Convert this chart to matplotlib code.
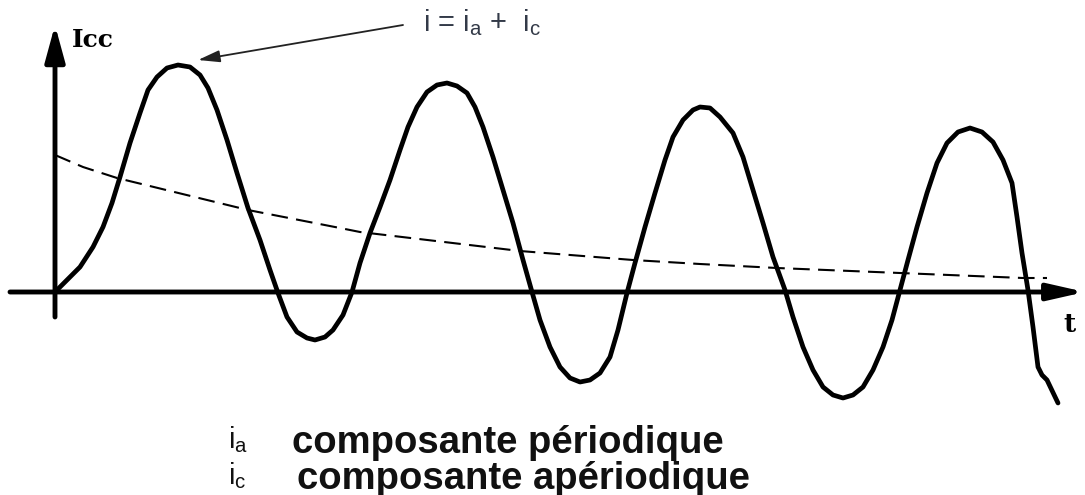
import matplotlib
matplotlib.use("Agg")
import matplotlib.pyplot as plt

plt.rcParams['mathtext.fontset'] = 'custom'
plt.rcParams['mathtext.rm'] = 'Liberation Sans'

# total current i = ia + ic (t, i)
t_i = [0, 12, 25, 38, 48, 57, 65, 75, 85, 93, 102, 112, 123, 135, 145, 153,
       162, 172, 182, 193, 205, 215, 223, 232, 242, 252, 260, 270, 278, 288,
       297, 305, 315, 325, 335, 345, 353, 362, 372, 382, 392, 402, 412, 420,
       428, 438, 448, 458, 468, 477, 485, 495, 505, 515, 525, 535, 545, 555,
       563, 572, 580, 590, 600, 610, 618, 628, 638, 645, 655, 665, 678, 688,
       698, 708, 718, 730, 738, 748, 758, 768, 778, 788, 798, 808, 818, 828,
       837, 845, 853, 862, 872, 882, 892, 903, 915, 927, 938, 948, 957, 962,
       967, 973, 978, 983, 987, 992, 1003]
i_total = [0, 12, 25, 45, 65, 89, 115, 149, 179, 202, 215, 224, 227, 225, 217,
           204, 182, 152, 119, 84, 52, 22, -1, -25, -40, -46, -48, -45, -38,
           -23, 0, 29, 59, 85, 112, 142, 165, 185, 200, 207, 209, 206, 199, 185,
           165, 135, 102, 69, 32, 0, -28, -55, -75, -86, -90, -88, -81, -65,
           -38, -1, 29, 65, 99, 132, 155, 172, 182, 185, 184, 175, 159, 135,
           102, 69, 35, 2, -25, -55, -78, -95, -103, -106, -103, -95, -78, -55,
           -28, 2, 32, 65, 99, 129, 149, 160, 164, 160, 150, 132, 109, 75,
           39, 2, -35, -75, -83, -88, -111]

# aperiodic component ic (dashed)
t_c = [0, 28, 62, 193, 285, 305, 465, 578, 645, 722, 845, 968, 992]
i_c = [137, 125, 114, 82, 64, 60, 41, 32, 28, 24, 19, 14, 14]

label_y = "Icc"
label_x = "t"
formula = r"i = i$_\mathregular{a}$ +  i$_\mathregular{c}$"
legend_sym = [r"i$_\mathregular{a}$", r"i$_\mathregular{c}$"]
legend_txt = ["composante périodique", "composante apériodique"]

fig = plt.figure(figsize=(10.85, 4.95), dpi=100)
ax = fig.add_axes([0, 0, 1, 1])
ax.set_xlim(-55, 1030)
ax.set_ylim(-203, 292)
ax.set_axis_off()

# axes with arrow heads
ax.annotate('', xy=(1030, 0), xytext=(-45, 0),
            arrowprops=dict(arrowstyle='-|>,head_length=1.1,head_width=0.25',
                            lw=3.5, color='black', mutation_scale=20,
                            shrinkA=0, shrinkB=0))
ax.annotate('', xy=(0, 267), xytext=(0, -25),
            arrowprops=dict(arrowstyle='-|>,head_length=1.1,head_width=0.3',
                            lw=3.5, color='black', mutation_scale=20,
                            shrinkA=0, shrinkB=0))

ax.plot(t_c, i_c, color='black', lw=1.5, dashes=[8, 4])
ax.plot(t_i, i_total, color='black', lw=3.4, solid_joinstyle='round',
        solid_capstyle='round')

ax.text(17, 245, label_y, fontfamily='DejaVu Serif', fontweight='bold',
        fontsize=18, va='baseline')
ax.text(1008, -40, label_x, fontfamily='DejaVu Serif', fontweight='bold',
        fontsize=19, va='baseline')

# formula with arrow to the first peak
ax.annotate('', xy=(143, 232), xytext=(348, 267),
            arrowprops=dict(arrowstyle='-|>,head_length=1.1,head_width=0.3',
                            lw=1.3, color='#222222', mutation_scale=12,
                            shrinkA=0, shrinkB=0))
ax.text(368, 261, formula, fontfamily='Liberation Sans', fontsize=21,
        color='#333a48', va='baseline')

# legend lines below the chart
ax.text(173, -156, legend_sym[0], fontfamily='Liberation Sans', fontsize=21,
        color='#111111', va='baseline')
ax.text(237, -161, legend_txt[0], fontfamily='Liberation Sans', fontweight='bold',
        fontsize=27.5, color='#111111', va='baseline')
ax.text(173, -192, legend_sym[1], fontfamily='Liberation Sans', fontsize=21,
        color='#111111', va='baseline')
ax.text(242, -197, legend_txt[1], fontfamily='Liberation Sans', fontweight='bold',
        fontsize=27.5, color='#111111', va='baseline')

fig.savefig('out.png', dpi=100, facecolor='white')
